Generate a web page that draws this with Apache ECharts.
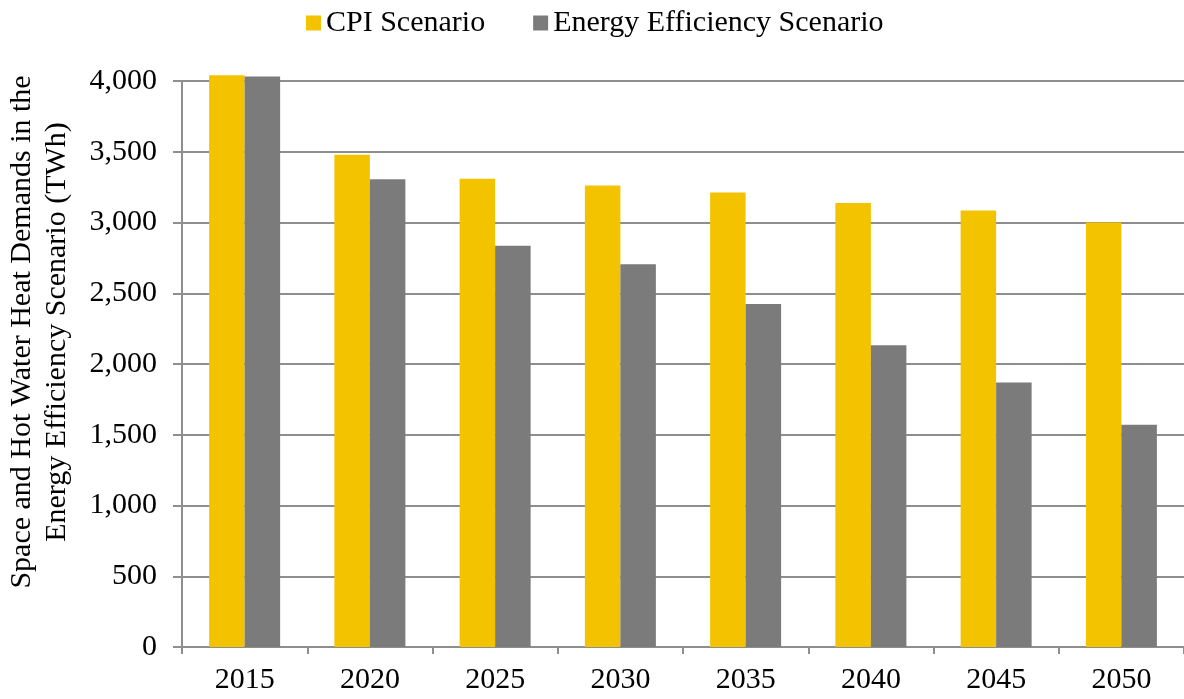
<!DOCTYPE html>
<html>
<head>
<meta charset="utf-8">
<script src="https://cdn.jsdelivr.net/npm/echarts@6/dist/echarts.min.js"></script>
<style>
  html, body { margin: 0; padding: 0; background: #ffffff; }
  #chart { width: 1184px; height: 699px; }
</style>
</head>
<body>
<div id="chart"></div>
<script>
// Space and hot water heat demand (TWh) by year
const years = ['2015', '2020', '2025', '2030', '2035', '2040', '2045', '2050'];
const cpiScenario = [4040, 3478, 3310, 3262, 3212, 3137, 3085, 3000];
const efficiencyScenario = [4032, 3305, 2835, 2705, 2424, 2132, 1870, 1571];
const seriesNames = ['CPI Scenario', 'Energy Efficiency Scenario'];
const yTitleLines = ['Space and Hot Water Heat Demands in the', 'Energy Efficiency Scenario (TWh)'];

const serif = '"Liberation Serif", "Times New Roman", serif';
const gridColor = '#8e8e8e';

const chart = echarts.init(document.getElementById('chart'), null, { renderer: 'canvas' });

chart.setOption({
  backgroundColor: '#ffffff',
  animation: false,
  textStyle: { fontFamily: serif, color: '#000' },
  legend: {
    top: 3,
    left: 301,
    itemWidth: 15,
    itemHeight: 15,
    itemGap: 48,
    icon: 'rect',
    textStyle: { fontFamily: serif, fontSize: 30, color: '#000' },
    data: seriesNames
  },
  grid: { left: 182, right: 0, top: 81, bottom: 52, containLabel: false },
  xAxis: {
    type: 'category',
    data: years,
    axisLine: { lineStyle: { color: gridColor, width: 2 } },
    axisTick: { show: true, length: 7, lineStyle: { color: gridColor, width: 2 } },
    axisLabel: { fontFamily: serif, fontSize: 30, color: '#000', margin: 18 }
  },
  yAxis: {
    type: 'value',
    min: 0,
    max: 4000,
    interval: 500,
    axisLine: { show: true, lineStyle: { color: gridColor, width: 2 } },
    axisTick: { show: true, length: 9, lineStyle: { color: gridColor, width: 2 } },
    splitLine: { show: true, lineStyle: { color: gridColor, width: 2 } },
    axisLabel: {
      fontFamily: serif, fontSize: 30, color: '#000', margin: 25,
      formatter: v => v.toLocaleString('en-US')
    }
  },
  graphic: [{
    type: 'text',
    x: 40,
    y: 332,
    rotation: Math.PI / 2,
    style: {
      text: yTitleLines.join('\n'),
      fontFamily: serif,
      fontSize: 30,
      lineHeight: 35,
      fill: '#000',
      align: 'center',
      verticalAlign: 'middle'
    }
  }],
  series: [
    {
      name: seriesNames[0],
      type: 'bar',
      data: cpiScenario,
      barWidth: 35.5,
      barGap: '0%',
      clip: false,
      itemStyle: { color: '#f3c300' }
    },
    {
      name: seriesNames[1],
      type: 'bar',
      data: efficiencyScenario,
      barWidth: 35.5,
      barGap: '0%',
      clip: false,
      itemStyle: { color: '#7b7b7b' }
    }
  ]
});
</script>
</body>
</html>
